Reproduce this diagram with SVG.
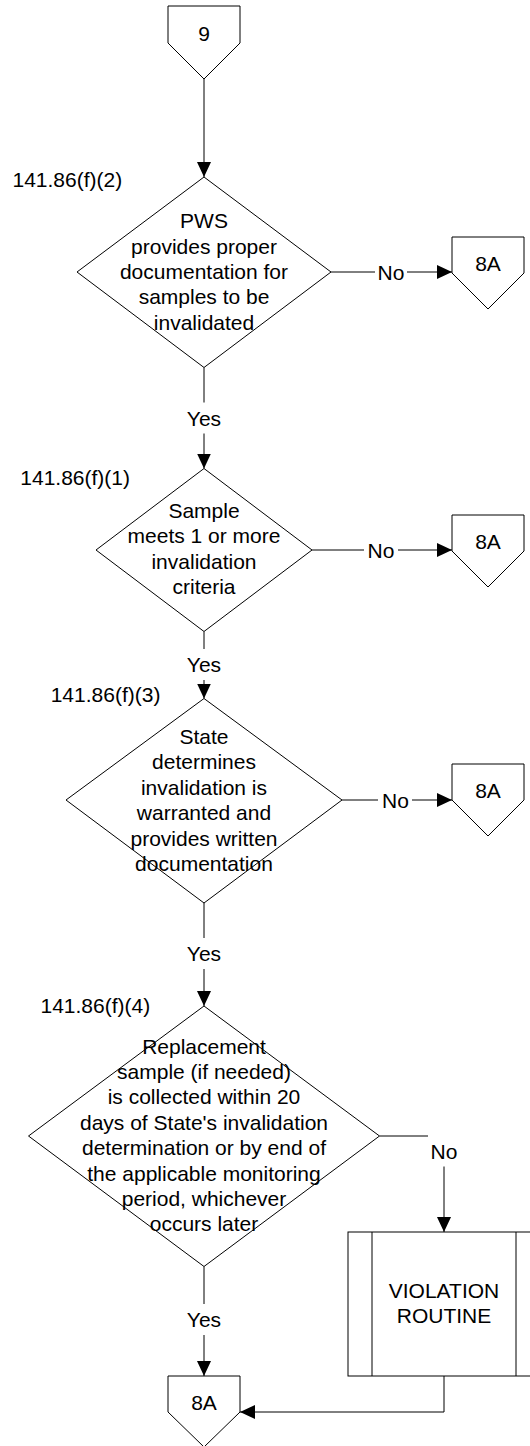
<svg xmlns="http://www.w3.org/2000/svg" width="530" height="1446" viewBox="0 0 530 1446">
<style>
.shape{fill:#fff;stroke:#000;stroke-width:1}
.conn{fill:none;stroke:#000;stroke-width:1}
.t{font-family:"Liberation Sans",Arial,sans-serif;font-size:21px;fill:#000;text-anchor:middle}
.ref{font-family:"Liberation Sans",Arial,sans-serif;font-size:21px;fill:#000}
.bg{fill:#fff;stroke:none}
</style>
<defs>
<marker id="arr" markerUnits="userSpaceOnUse" markerWidth="15" markerHeight="14" refX="15" refY="7" orient="auto">
<path d="M0,0 L15,7 L0,14 Z" fill="#000"/>
</marker>
</defs>
<rect width="530" height="1446" fill="#fff"/>

<g id="connectors">
<path class="conn" d="M204,79 L204,177" marker-end="url(#arr)"/>
<path class="conn" d="M204,367.5 L204,468.5" marker-end="url(#arr)"/>
<path class="conn" d="M204,631.5 L204,698.5" marker-end="url(#arr)"/>
<path class="conn" d="M204,903 L204,1006" marker-end="url(#arr)"/>
<path class="conn" d="M204,1266.5 L204,1376" marker-end="url(#arr)"/>
<path class="conn" d="M331,272 L452,272" marker-end="url(#arr)"/>
<path class="conn" d="M312,550 L452,550" marker-end="url(#arr)"/>
<path class="conn" d="M342,800 L452,800" marker-end="url(#arr)"/>
<path class="conn" d="M379.5,1136 L444,1136 L444,1232" marker-end="url(#arr)"/>
<path class="conn" d="M444,1376 L444,1412 L240,1412" marker-end="url(#arr)"/>
<rect class="bg" x="184" y="402.5" width="40" height="31"/>
<text class="t" x="204" y="426">Yes</text>
<rect class="bg" x="184" y="649" width="40" height="31"/>
<text class="t" x="204" y="672">Yes</text>
<rect class="bg" x="184" y="938" width="40" height="31"/>
<text class="t" x="204" y="961">Yes</text>
<rect class="bg" x="184" y="1304" width="40" height="31"/>
<text class="t" x="204" y="1327">Yes</text>
<rect class="bg" x="375" y="257" width="32" height="31"/>
<text class="t" x="391" y="279.5">No</text>
<rect class="bg" x="364" y="535" width="34" height="31"/>
<text class="t" x="381" y="557.5">No</text>
<rect class="bg" x="378" y="785" width="34" height="31"/>
<text class="t" x="395.5" y="807.5">No</text>
<rect class="bg" x="428" y="1135" width="32" height="31.5"/>
<text class="t" x="444" y="1159">No</text>
</g>

<g id="conn9">
<polygon class="shape" points="168,6 240,6 240,43 204,79 168,43"/>
<text class="t" x="204" y="41">9</text>
</g>

<g id="decision1">
<polygon class="shape" points="204,177 331,272 204,367.5 77,272"/>
<text class="t" x="204" y="228.2">PWS</text>
<text class="t" x="204" y="253.6">provides proper</text>
<text class="t" x="204" y="279">documentation for</text>
<text class="t" x="204" y="304.4">samples to be</text>
<text class="t" x="204" y="329.8">invalidated</text>
<text class="ref" x="12.5" y="187">141.86(f)(2)</text>
</g>

<g id="offpage1">
<polygon class="shape" points="452,237 524,237 524,273 488,309 452,273"/>
<text class="t" x="488" y="271">8A</text>
</g>

<g id="decision2">
<polygon class="shape" points="204,468.5 312,550 204,631.5 96,550"/>
<text class="t" x="204" y="518">Sample</text>
<text class="t" x="204" y="543.4">meets 1 or more</text>
<text class="t" x="204" y="568.8">invalidation</text>
<text class="t" x="204" y="594.2">criteria</text>
<text class="ref" x="20.3" y="485.4">141.86(f)(1)</text>
</g>

<g id="offpage2">
<polygon class="shape" points="452,515 524,515 524,551 488,587 452,551"/>
<text class="t" x="488" y="549">8A</text>
</g>

<g id="decision3">
<polygon class="shape" points="204,698.5 342,800 204,903 66,800"/>
<text class="t" x="204" y="744">State</text>
<text class="t" x="204" y="769.4">determines</text>
<text class="t" x="204" y="794.8">invalidation is</text>
<text class="t" x="204" y="820.2">warranted and</text>
<text class="t" x="204" y="845.6">provides written</text>
<text class="t" x="204" y="871">documentation</text>
<text class="ref" x="50.7" y="701.5">141.86(f)(3)</text>
</g>

<g id="offpage3">
<polygon class="shape" points="452,764 524,764 524,800 488,836 452,800"/>
<text class="t" x="488" y="798">8A</text>
</g>

<g id="decision4">
<polygon class="shape" points="204,1006 379.5,1136 204,1266.5 28.5,1136"/>
<text class="t" x="204" y="1053.6">Replacement</text>
<text class="t" x="204" y="1079">sample (if needed)</text>
<text class="t" x="204" y="1104.4">is collected within 20</text>
<text class="t" x="204" y="1129.8">days of State's invalidation</text>
<text class="t" x="204" y="1155.2">determination or by end of</text>
<text class="t" x="204" y="1180.6">the applicable monitoring</text>
<text class="t" x="204" y="1206">period, whichever</text>
<text class="t" x="204" y="1231.4">occurs later</text>
<text class="ref" x="40.5" y="1012.8">141.86(f)(4)</text>
</g>

<g id="violation">
<rect class="shape" x="348" y="1232" width="192" height="144"/>
<line class="conn" x1="372" y1="1232" x2="372" y2="1376"/>
<line class="conn" x1="516" y1="1232" x2="516" y2="1376"/>
<text class="t" x="444" y="1298">VIOLATION</text>
<text class="t" x="444" y="1323">ROUTINE</text>
</g>

<g id="offpage4">
<polygon class="shape" points="168,1376 240,1376 240,1412 204,1447 168,1412"/>
<text class="t" x="204" y="1410">8A</text>
</g>
</svg>
